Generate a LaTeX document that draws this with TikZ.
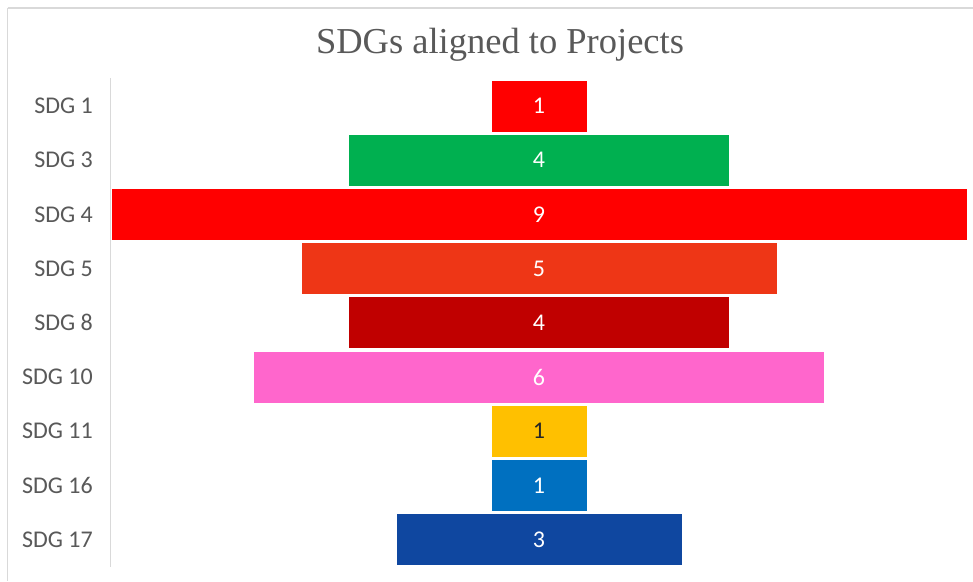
\documentclass[tikz,border=0pt]{standalone}
\usepackage{fontspec}
\setmainfont{Carlito}
\newfontfamily\titlefont{Liberation Serif}
\definecolor{framegray}{HTML}{D9D9D9}
\definecolor{textgray}{HTML}{595959}
\definecolor{darktext}{HTML}{262626}
\definecolor{sdgred}{HTML}{FF0000}
\definecolor{sdggreen}{HTML}{00B050}
\definecolor{sdgorange}{HTML}{EE3616}
\definecolor{sdgdarkred}{HTML}{C00000}
\definecolor{sdgpink}{HTML}{FF66CC}
\definecolor{sdgyellow}{HTML}{FFC000}
\definecolor{sdgblue}{HTML}{0070C0}
\definecolor{sdgnavy}{HTML}{0F47A0}
\tikzset{
  bar/.style={inner sep=0pt, minimum height=51pt, text=white,
    font=\fontsize{24}{28}\selectfont},
  catlabel/.style={anchor=east, inner sep=0pt, text=textgray,
    font=\fontsize{24}{28}\selectfont},
  frameline/.style={draw=framegray, line width=1.5pt},
}
\begin{document}
\begin{tikzpicture}[x=1pt, y=-1pt]
\useasboundingbox (0,0) rectangle (973,581);
\fill[white] (0,0) rectangle (973,581);
% chart frame (top and left edges)
\draw[frameline] (7.5,8) -- (973,8);
\draw[frameline] (7.5,8) -- (7.5,581);
% title
\node (title) at (500,45) {\titlefont\fontsize{36.5}{40}\selectfont\color{textgray}SDGs aligned to Projects};
% vertical category axis
\coordinate (axtop) at (110.5,78);
\coordinate (axbot) at (110.5,567);
\draw[frameline] (axtop) -- (axbot);
% bars, centred on x = 539, one unit = 95pt
\node[bar, fill=sdgred,     minimum width=95pt]  (b1)  at (539,106.0) {1};
\node[bar, fill=sdggreen,   minimum width=380pt] (b3)  at (539,160.2) {4};
\node[bar, fill=sdgred,     minimum width=855pt] (b4)  at (539,214.4) {9};
\node[bar, fill=sdgorange,  minimum width=475pt] (b5)  at (539,268.6) {5};
\node[bar, fill=sdgdarkred, minimum width=380pt] (b8)  at (539,322.8) {4};
\node[bar, fill=sdgpink,    minimum width=570pt] (b10) at (539,377.0) {6};
\node[bar, fill=sdgyellow,  minimum width=95pt, text=darktext] (b11) at (539,431.2) {1};
\node[bar, fill=sdgblue,    minimum width=95pt]  (b16) at (539,485.4) {1};
\node[bar, fill=sdgnavy,    minimum width=285pt] (b17) at (539,539.6) {3};
% category labels
\node[catlabel] (l1)  at (93,106.0) {SDG 1};
\node[catlabel] (l3)  at (93,160.2) {SDG 3};
\node[catlabel] (l4)  at (93,214.4) {SDG 4};
\node[catlabel] (l5)  at (93,268.6) {SDG 5};
\node[catlabel] (l8)  at (93,322.8) {SDG 8};
\node[catlabel] (l10) at (93,377.0) {SDG 10};
\node[catlabel] (l11) at (93,431.2) {SDG 11};
\node[catlabel] (l16) at (93,485.4) {SDG 16};
\node[catlabel] (l17) at (93,539.6) {SDG 17};
\end{tikzpicture}
\end{document}
